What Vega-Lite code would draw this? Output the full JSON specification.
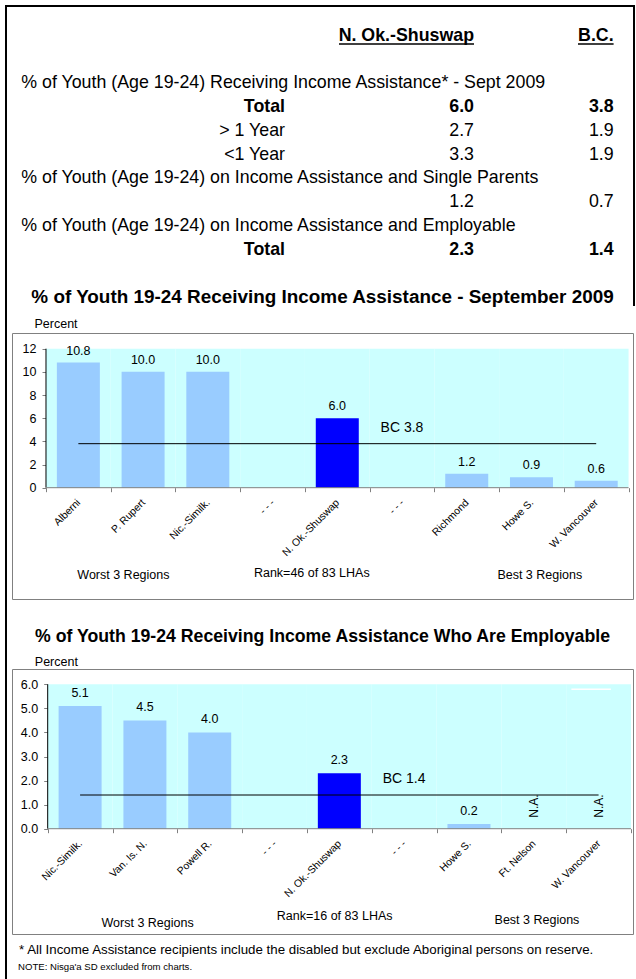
{
  "$schema": "https://vega.github.io/schema/vega-lite/v6.json",
  "padding": {"left": 4, "top": 4, "right": 0, "bottom": 0},
  "background": "white",
  "spacing": 70,
  "bounds": "flush",
  "config": {
    "font": "Liberation Sans",
    "view": {"stroke": null},
    "text": {"font": "Liberation Sans", "color": "black"},
    "axis": {"labelFont": "Liberation Sans", "titleFont": "Liberation Sans", "labelColor": "black", "titleColor": "black", "grid": false},
    "title": {"font": "Liberation Sans", "color": "black"}
  },
  "datasets": {
    "table": [
      {"r": 2, "desc": "% of Youth (Age 19-24) Receiving Income Assistance* - Sept 2009"},
      {"r": 3, "label": "Total", "nok": 6.0, "bc": 3.8, "kind": "total"},
      {"r": 4, "label": "> 1 Year", "nok": 2.7, "bc": 1.9},
      {"r": 5, "label": "<1 Year", "nok": 3.3, "bc": 1.9},
      {"r": 6, "desc": "% of Youth (Age 19-24) on Income Assistance and Single Parents"},
      {"r": 7, "nok": 1.2, "bc": 0.7},
      {"r": 8, "desc": "% of Youth (Age 19-24) on Income Assistance and Employable"},
      {"r": 9, "label": "Total", "nok": 2.3, "bc": 1.4, "kind": "total"}
    ],
    "c1": [
      {"cat": "Alberni", "v": 10.8},
      {"cat": "P. Rupert", "v": 10.0},
      {"cat": "Nic.-Similk.", "v": 10.0},
      {"cat": "- - -", "v": null},
      {"cat": "N. Ok.-Shuswap", "v": 6.0},
      {"cat": "- - - ", "v": null},
      {"cat": "Richmond", "v": 1.2},
      {"cat": "Howe S.", "v": 0.9},
      {"cat": "W. Vancouver", "v": 0.6}
    ],
    "c1bc": [{"bc": 3.8, "label": "BC 3.8"}],
    "c2": [
      {"cat": "Nic.-Similk.", "v": 5.1},
      {"cat": "Van. Is. N.", "v": 4.5},
      {"cat": "Powell R.", "v": 4.0},
      {"cat": "- - -", "v": null},
      {"cat": "N. Ok.-Shuswap", "v": 2.3},
      {"cat": "- - - ", "v": null},
      {"cat": "Howe S.", "v": 0.2},
      {"cat": "Ft. Nelson", "v": null, "note": "N.A."},
      {"cat": "W. Vancouver", "v": null, "note": "N.A."}
    ],
    "c2bc": [{"bc": 1.4, "label": "BC 1.4"}]
  },
  "vconcat": [
    {
      "width": 621,
      "height": 257,
      "data": {"name": "table"},
      "layer": [
        {
          "transform": [{"filter": "isValid(datum.desc)"}],
          "mark": {"type": "text", "align": "left", "baseline": "middle", "fontSize": 17.8},
          "encoding": {
            "x": {"value": 9.3},
            "y": {"field": "r", "type": "quantitative", "scale": {"domain": [-1.263, 9.558], "reverse": true, "nice": false, "zero": false}, "axis": null},
            "text": {"field": "desc"}
          }
        },
        {
          "transform": [{"filter": "isValid(datum.label) && datum.kind === 'total'"}],
          "mark": {"type": "text", "align": "right", "baseline": "middle", "fontSize": 17.8, "fontWeight": "bold"},
          "encoding": {"x": {"value": 273}, "y": {"field": "r", "type": "quantitative"}, "text": {"field": "label"}}
        },
        {
          "transform": [{"filter": "isValid(datum.label) && datum.kind !== 'total'"}],
          "mark": {"type": "text", "align": "right", "baseline": "middle", "fontSize": 17.8},
          "encoding": {"x": {"value": 273}, "y": {"field": "r", "type": "quantitative"}, "text": {"field": "label"}}
        },
        {
          "transform": [{"filter": "isValid(datum.nok) && datum.kind === 'total'"}],
          "mark": {"type": "text", "align": "right", "baseline": "middle", "fontSize": 17.8, "fontWeight": "bold"},
          "encoding": {"x": {"value": 462}, "y": {"field": "r", "type": "quantitative"}, "text": {"field": "nok", "format": ".1f"}}
        },
        {
          "transform": [{"filter": "isValid(datum.nok) && datum.kind !== 'total'"}],
          "mark": {"type": "text", "align": "right", "baseline": "middle", "fontSize": 17.8},
          "encoding": {"x": {"value": 462}, "y": {"field": "r", "type": "quantitative"}, "text": {"field": "nok", "format": ".1f"}}
        },
        {
          "transform": [{"filter": "isValid(datum.bc) && datum.kind === 'total'"}],
          "mark": {"type": "text", "align": "right", "baseline": "middle", "fontSize": 17.8, "fontWeight": "bold"},
          "encoding": {"x": {"value": 601.6}, "y": {"field": "r", "type": "quantitative"}, "text": {"field": "bc", "format": ".1f"}}
        },
        {
          "transform": [{"filter": "isValid(datum.bc) && datum.kind !== 'total'"}],
          "mark": {"type": "text", "align": "right", "baseline": "middle", "fontSize": 17.8},
          "encoding": {"x": {"value": 601.6}, "y": {"field": "r", "type": "quantitative"}, "text": {"field": "bc", "format": ".1f"}}
        },
        {
          "data": {"values": [{"h": "N. Ok.-Shuswap"}]},
          "mark": {"type": "text", "align": "right", "baseline": "middle", "fontSize": 17.8, "fontWeight": "bold"},
          "encoding": {"x": {"value": 462}, "y": {"datum": 0, "type": "quantitative"}, "text": {"field": "h"}}
        },
        {
          "data": {"values": [{"h": "B.C."}]},
          "mark": {"type": "text", "align": "right", "baseline": "middle", "fontSize": 17.8, "fontWeight": "bold"},
          "encoding": {"x": {"value": 601.6}, "y": {"datum": 0, "type": "quantitative"}, "text": {"field": "h"}}
        },
        {
          "data": {"values": [{}]},
          "mark": {"type": "rule", "color": "black", "strokeWidth": 1.5},
          "encoding": {"x": {"value": 327}, "x2": {"value": 462}, "y": {"datum": 0.34, "type": "quantitative"}}
        },
        {
          "data": {"values": [{}]},
          "mark": {"type": "rule", "color": "black", "strokeWidth": 1.5},
          "encoding": {"x": {"value": 566}, "x2": {"value": 601.6}, "y": {"datum": 0.34, "type": "quantitative"}}
        },
        {
          "data": {"values": [{}]},
          "mark": {"type": "rule", "color": "black", "strokeWidth": 2},
          "encoding": {"x": {"value": -6}, "y": {"value": -1}, "y2": {"value": 974}}
        },
        {
          "data": {"values": [{}]},
          "mark": {"type": "rule", "color": "black", "strokeWidth": 2},
          "encoding": {"x": {"value": -7}, "x2": {"value": 623}, "y": {"value": 0}}
        },
        {
          "data": {"values": [{}]},
          "mark": {"type": "rule", "color": "black", "strokeWidth": 2},
          "encoding": {"x": {"value": 622}, "y": {"value": -1}, "y2": {"value": 300}}
        }
      ]
    },
    {
      "width": 621,
      "height": 266,
      "view": {"stroke": "#808080", "strokeWidth": 1},
      "title": {"text": "% of Youth 19-24 Receiving Income Assistance - September 2009", "fontSize": 18.9, "fontWeight": "bold", "anchor": "middle", "frame": "group", "offset": 11},
      "data": {"name": "c1"},
      "layer": [
        {
          "mark": {"type": "rect", "color": "#CCFFFF"},
          "encoding": {
            "x": {"field": "cat", "type": "nominal", "sort": null, "title": null,
              "scale": {"paddingInner": 0, "paddingOuter": 0.29685, "align": 0.8847},
              "axis": {"orient": "bottom", "offset": -111.3, "domain": false, "tickBand": "extent", "tickSize": 4, "tickColor": "#808080", "labelAngle": -45, "labelAlign": "right", "labelBaseline": "middle", "labelPadding": 9, "labelFontSize": 10.4, "labelExpr": "isString(datum.value) ? trim(datum.value) : ''"}},
            "y": {"datum": 0, "type": "quantitative", "title": "Percent",
              "scale": {"domain": [-9.609, 13.355], "nice": false, "zero": false},
              "axis": {"orient": "left", "offset": -34, "values": [0, 2, 4, 6, 8, 10, 12], "domain": false, "tickSize": 4, "tickColor": "#808080", "labelFontSize": 12.5, "labelPadding": 6, "titleAngle": 0, "titleAlign": "left", "titleBaseline": "middle", "titleX": -12, "titleY": -9.3, "titleFontWeight": "normal", "titleFontSize": 12.5}},
            "y2": {"datum": 12}
          }
        },
        {
          "mark": {"type": "bar", "width": 43},
          "encoding": {
            "x": {"field": "cat", "type": "nominal", "sort": null, "title": null},
            "y": {"field": "v", "type": "quantitative", "title": "Percent"},
            "color": {"condition": {"test": "datum.cat === 'N. Ok.-Shuswap'", "value": "#0000FF"}, "value": "#99CCFF"}
          }
        },
        {
          "mark": {"type": "text", "baseline": "middle", "dy": -12, "fontSize": 12.5},
          "encoding": {
            "x": {"field": "cat", "type": "nominal", "sort": null, "title": null},
            "y": {"field": "v", "type": "quantitative", "title": "Percent"},
            "text": {"field": "v", "format": ".1f"}
          }
        },
        {
          "data": {"values": [{}]},
          "mark": {"type": "rule", "color": "black", "strokeWidth": 1},
          "encoding": {"x": {"datum": "Alberni", "type": "nominal", "bandPosition": 0, "title": null}, "y": {"datum": 0, "type": "quantitative", "title": "Percent"}, "y2": {"datum": 12}}
        },
        {
          "data": {"values": [{}]},
          "mark": {"type": "rule", "color": "#808080", "strokeWidth": 1},
          "encoding": {"x": {"datum": "Alberni", "type": "nominal", "bandPosition": 0, "title": null}, "x2": {"datum": "W. Vancouver", "bandPosition": 1}, "y": {"datum": 0, "type": "quantitative", "title": "Percent"}}
        },
        {
          "data": {"name": "c1bc"},
          "mark": {"type": "rule", "color": "black", "strokeWidth": 1},
          "encoding": {"x": {"datum": "Alberni", "type": "nominal", "title": null}, "x2": {"datum": "W. Vancouver"}, "y": {"field": "bc", "type": "quantitative", "title": "Percent"}}
        },
        {
          "data": {"name": "c1bc"},
          "mark": {"type": "text", "baseline": "middle", "dy": -16, "fontSize": 14},
          "encoding": {"x": {"datum": "- - - ", "type": "nominal", "title": null}, "y": {"field": "bc", "type": "quantitative", "title": "Percent"}, "text": {"field": "label"}}
        },
        {
          "data": {"values": [{}]},
          "mark": {"type": "text", "baseline": "middle", "fontSize": 12.5, "dx": -19.7, "text": "Worst 3 Regions"},
          "encoding": {"x": {"datum": "P. Rupert", "type": "nominal", "title": null}, "y": {"datum": -7.54, "type": "quantitative", "title": "Percent"}}
        },
        {
          "data": {"values": [{}]},
          "mark": {"type": "text", "baseline": "middle", "fontSize": 12.5, "dx": -25.5, "text": "Rank=46 of 83 LHAs"},
          "encoding": {"x": {"datum": "N. Ok.-Shuswap", "type": "nominal", "title": null}, "y": {"datum": -7.34, "type": "quantitative", "title": "Percent"}}
        },
        {
          "data": {"values": [{}]},
          "mark": {"type": "text", "baseline": "middle", "fontSize": 12.5, "dx": 8.3, "text": "Best 3 Regions"},
          "encoding": {"x": {"datum": "Howe S.", "type": "nominal", "title": null}, "y": {"datum": -7.54, "type": "quantitative", "title": "Percent"}}
        }
      ]
    },
    {
      "width": 621,
      "height": 265,
      "view": {"stroke": "#808080", "strokeWidth": 1},
      "title": {"text": "% of Youth 19-24 Receiving Income Assistance Who Are Employable", "fontSize": 17.7, "fontWeight": "bold", "anchor": "middle", "frame": "group", "offset": 10},
      "data": {"name": "c2"},
      "layer": [
        {
          "mark": {"type": "rect", "color": "#CCFFFF"},
          "encoding": {
            "x": {"field": "cat", "type": "nominal", "sort": null, "title": null,
              "scale": {"paddingInner": 0, "paddingOuter": 0.2909, "align": 0.9467},
              "axis": {"orient": "bottom", "offset": -105.3, "domain": false, "tickBand": "extent", "tickSize": 4, "tickColor": "#808080", "labelAngle": -45, "labelAlign": "right", "labelBaseline": "middle", "labelPadding": 9, "labelFontSize": 10.4, "labelExpr": "isString(datum.value) ? trim(datum.value) : ''"}},
            "y": {"datum": 0, "type": "quantitative", "title": "Percent",
              "scale": {"domain": [-4.375, 6.636], "nice": false, "zero": false},
              "axis": {"orient": "left", "offset": -35.7, "values": [0, 1, 2, 3, 4, 5, 6], "format": ".1f", "domain": false, "tickSize": 4, "tickColor": "#808080", "labelFontSize": 12.5, "labelPadding": 6, "titleAngle": 0, "titleAlign": "left", "titleBaseline": "middle", "titleX": -13.4, "titleY": -7.3, "titleFontWeight": "normal", "titleFontSize": 12.5}},
            "y2": {"datum": 6}
          }
        },
        {
          "mark": {"type": "bar", "width": 43},
          "encoding": {
            "x": {"field": "cat", "type": "nominal", "sort": null, "title": null},
            "y": {"field": "v", "type": "quantitative", "title": "Percent"},
            "color": {"condition": {"test": "datum.cat === 'N. Ok.-Shuswap'", "value": "#0000FF"}, "value": "#99CCFF"}
          }
        },
        {
          "mark": {"type": "text", "baseline": "middle", "dy": -13, "fontSize": 12.5},
          "encoding": {
            "x": {"field": "cat", "type": "nominal", "sort": null, "title": null},
            "y": {"field": "v", "type": "quantitative", "title": "Percent"},
            "text": {"field": "v", "format": ".1f"}
          }
        },
        {
          "transform": [{"filter": "isValid(datum.note)"}],
          "mark": {"type": "text", "baseline": "middle", "align": "center", "angle": 270, "fontSize": 12},
          "encoding": {
            "x": {"field": "cat", "type": "nominal", "sort": null, "title": null},
            "y": {"datum": 0.94, "type": "quantitative", "title": "Percent"},
            "text": {"field": "note"}
          }
        },
        {
          "data": {"values": [{}]},
          "mark": {"type": "rule", "color": "black", "strokeWidth": 1},
          "encoding": {"x": {"datum": "Nic.-Similk.", "type": "nominal", "bandPosition": 0, "title": null}, "y": {"datum": 0, "type": "quantitative", "title": "Percent"}, "y2": {"datum": 6}}
        },
        {
          "data": {"values": [{}]},
          "mark": {"type": "rule", "color": "#808080", "strokeWidth": 1},
          "encoding": {"x": {"datum": "Nic.-Similk.", "type": "nominal", "bandPosition": 0, "title": null}, "x2": {"datum": "W. Vancouver", "bandPosition": 1}, "y": {"datum": 0, "type": "quantitative", "title": "Percent"}}
        },
        {
          "data": {"values": [{}]},
          "mark": {"type": "rule", "color": "white", "strokeWidth": 1.5},
          "encoding": {"x": {"datum": "W. Vancouver", "type": "nominal", "bandPosition": 0.08, "title": null}, "x2": {"datum": "W. Vancouver", "bandPosition": 0.69}, "y": {"datum": 5.79, "type": "quantitative", "title": "Percent"}}
        },
        {
          "data": {"name": "c2bc"},
          "mark": {"type": "rule", "color": "black", "strokeWidth": 1},
          "encoding": {"x": {"datum": "Nic.-Similk.", "type": "nominal", "title": null}, "x2": {"datum": "W. Vancouver"}, "y": {"field": "bc", "type": "quantitative", "title": "Percent"}}
        },
        {
          "data": {"name": "c2bc"},
          "mark": {"type": "text", "baseline": "middle", "dy": -16, "fontSize": 14},
          "encoding": {"x": {"datum": "- - - ", "type": "nominal", "title": null}, "y": {"field": "bc", "type": "quantitative", "title": "Percent"}, "text": {"field": "label"}}
        },
        {
          "data": {"values": [{}]},
          "mark": {"type": "text", "baseline": "middle", "fontSize": 12.5, "dx": 2.7, "text": "Worst 3 Regions"},
          "encoding": {"x": {"datum": "Van. Is. N.", "type": "nominal", "title": null}, "y": {"datum": -3.905, "type": "quantitative", "title": "Percent"}}
        },
        {
          "data": {"values": [{}]},
          "mark": {"type": "text", "baseline": "middle", "fontSize": 12.5, "dx": -4.7, "text": "Rank=16 of 83 LHAs"},
          "encoding": {"x": {"datum": "N. Ok.-Shuswap", "type": "nominal", "title": null}, "y": {"datum": -3.627, "type": "quantitative", "title": "Percent"}}
        },
        {
          "data": {"values": [{}]},
          "mark": {"type": "text", "baseline": "middle", "fontSize": 12.5, "dx": 3.2, "text": "Best 3 Regions"},
          "encoding": {"x": {"datum": "Ft. Nelson", "type": "nominal", "title": null}, "y": {"datum": -3.806, "type": "quantitative", "title": "Percent"}}
        },
        {
          "data": {"values": [{}]},
          "mark": {"type": "text", "baseline": "middle", "align": "left", "fontSize": 13.3, "text": "* All Income Assistance recipients include the disabled but exclude Aboriginal persons on reserve."},
          "encoding": {"x": {"value": 7}, "y": {"datum": -5.04, "type": "quantitative", "title": "Percent"}}
        },
        {
          "data": {"values": [{}]},
          "mark": {"type": "text", "baseline": "middle", "align": "left", "fontSize": 9.6, "text": "NOTE:  Nisga'a SD excluded from charts."},
          "encoding": {"x": {"value": 6}, "y": {"datum": -5.733, "type": "quantitative", "title": "Percent"}}
        }
      ]
    }
  ]
}
